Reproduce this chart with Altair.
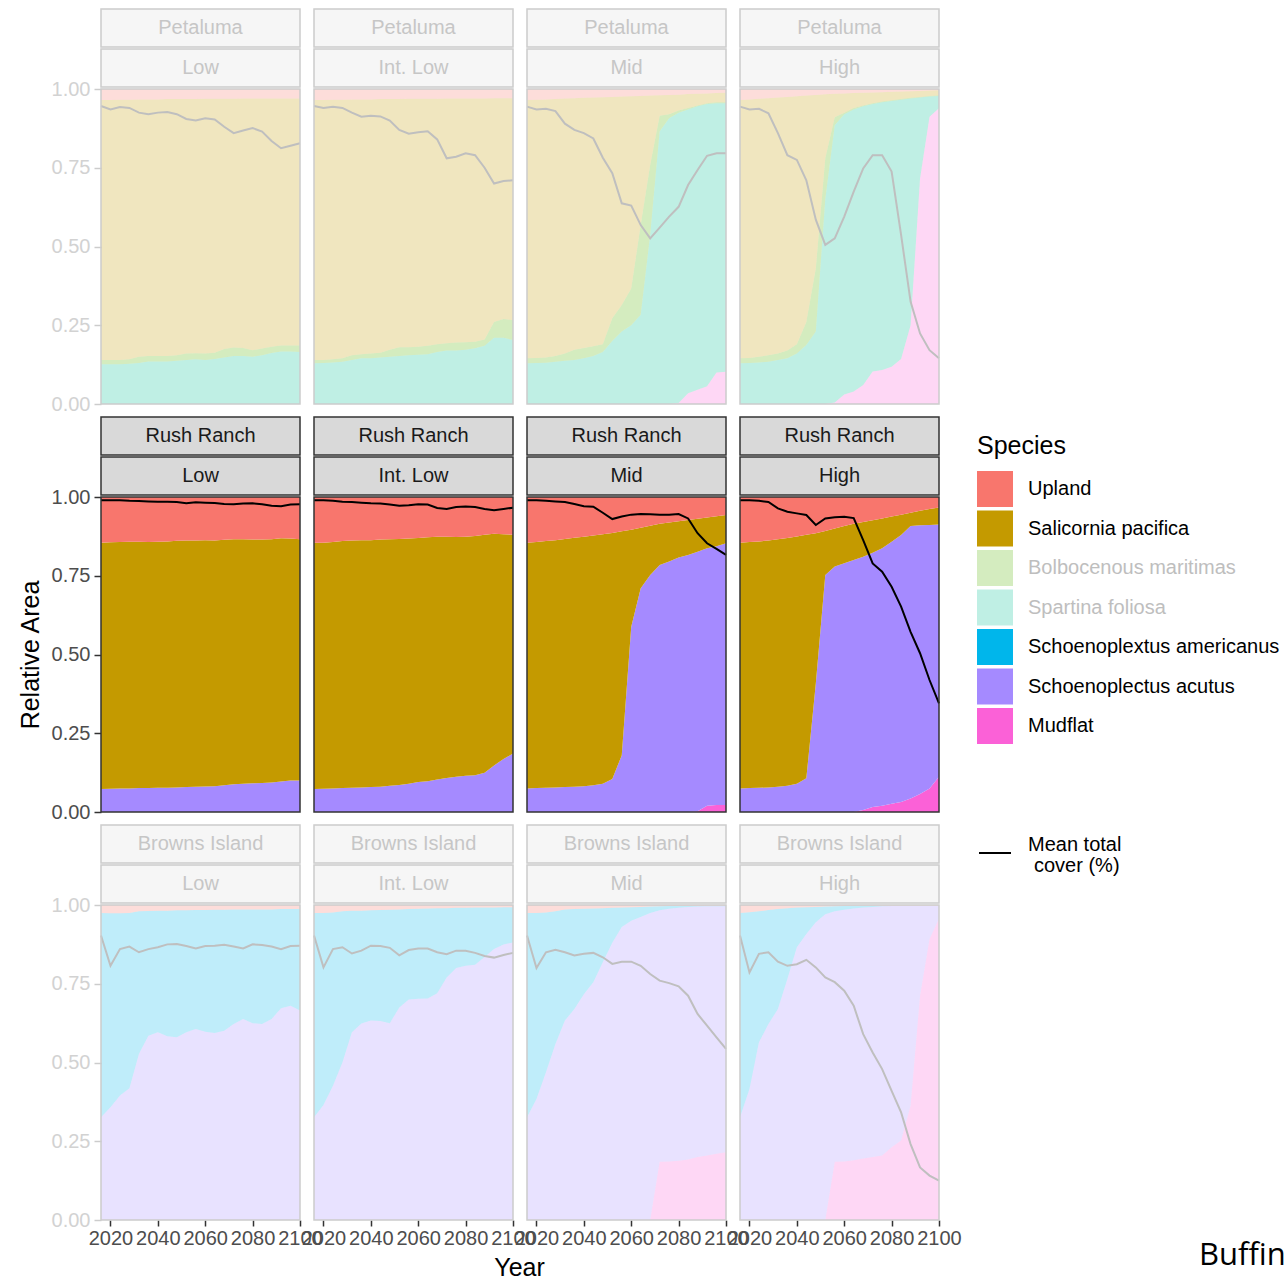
import altair as alt
import pandas as pd

# ---------------------------------------------------------------------------
# Categories, colours and labels
# ---------------------------------------------------------------------------
YEARS = list(range(2016, 2101, 4))

SITES = ["Petaluma", "Rush Ranch", "Browns Island"]
SCENARIOS = ["Low", "Int. Low", "Mid", "High"]
FOCUS_SITE = "Rush Ranch"

SPECIES = ["Upland", "Salicornia pacifica", "Bolbocenous maritimas", "Spartina foliosa",
           "Schoenoplextus americanus", "Schoenoplectus acutus", "Mudflat"]
SPECIES_COLORS = ["#F8766D", "#C49A00", "#53B400", "#00C094", "#00B6EB", "#A58AFF", "#FB61D7"]
DIMMED_KEYS = ["Bolbocenous maritimas", "Spartina foliosa"]

LEGEND_TITLE = "Species"
LINE_LABEL_LINES = ["Mean total", "cover (%)"]
Y_TITLE = "Relative Area"
X_TITLE = "Year"
Y_TICKS = [0, 0.25, 0.5, 0.75, 1.0]
X_TICKS = [2020, 2040, 2060, 2080, 2100]
CORNER_NOTE = "Buffin"

# ---------------------------------------------------------------------------
# Upper edge of each band (cumulative relative area), one value per year,
# plus the mean total cover line.  Upland always closes the stack at 1.
# ---------------------------------------------------------------------------
# Petaluma
pet_low_line = [0.946, 0.935, 0.943, 0.940, 0.925, 0.920, 0.925, 0.927, 0.920, 0.905, 0.900,
                0.907, 0.903, 0.880, 0.860, 0.868, 0.876, 0.865, 0.835, 0.812, 0.820, 0.828]
pet_low_spartina = [0.126, 0.126, 0.126, 0.128, 0.130, 0.135, 0.135, 0.135, 0.137, 0.140, 0.142,
                    0.140, 0.143, 0.148, 0.152, 0.152, 0.150, 0.155, 0.162, 0.167, 0.167, 0.165]
pet_low_bolbo = [0.140, 0.140, 0.140, 0.142, 0.150, 0.152, 0.152, 0.152, 0.155, 0.160, 0.161,
                 0.160, 0.163, 0.175, 0.179, 0.178, 0.171, 0.176, 0.182, 0.186, 0.186, 0.186]
pet_low_salicornia = [0.965, 0.965, 0.966, 0.966, 0.967, 0.967, 0.967, 0.968, 0.968, 0.968, 0.968,
                      0.969, 0.969, 0.969, 0.969, 0.970, 0.970, 0.970, 0.970, 0.970, 0.970, 0.970]

pet_il_line = [0.946, 0.940, 0.944, 0.940, 0.925, 0.912, 0.915, 0.913, 0.900, 0.870, 0.858,
               0.863, 0.866, 0.840, 0.780, 0.785, 0.796, 0.790, 0.750, 0.700, 0.708, 0.710]
pet_il_spartina = [0.129, 0.130, 0.132, 0.134, 0.140, 0.145, 0.145, 0.148, 0.150, 0.152, 0.155,
                   0.156, 0.158, 0.165, 0.170, 0.170, 0.172, 0.177, 0.185, 0.210, 0.210, 0.203]
pet_il_bolbo = [0.140, 0.140, 0.142, 0.145, 0.155, 0.158, 0.160, 0.163, 0.172, 0.180, 0.180,
                0.182, 0.185, 0.190, 0.193, 0.195, 0.196, 0.198, 0.205, 0.260, 0.270, 0.266]
pet_il_salicornia = [0.965, 0.965, 0.966, 0.966, 0.967, 0.967, 0.967, 0.968, 0.968, 0.968, 0.969,
                     0.969, 0.969, 0.969, 0.970, 0.970, 0.970, 0.970, 0.970, 0.971, 0.971, 0.971]

pet_mid_line = [0.944, 0.935, 0.937, 0.930, 0.890, 0.870, 0.860, 0.843, 0.782, 0.733, 0.637,
                0.630, 0.568, 0.526, 0.560, 0.595, 0.626, 0.695, 0.743, 0.788, 0.796, 0.796]
pet_mid_mudflat = [0, 0, 0, 0, 0, 0, 0, 0, 0, 0, 0,
                   0, 0, 0, 0, 0, 0.003, 0.034, 0.045, 0.056, 0.100, 0.102]
pet_mid_spartina = [0.129, 0.130, 0.131, 0.134, 0.137, 0.140, 0.145, 0.152, 0.165, 0.200, 0.230,
                    0.250, 0.283, 0.537, 0.865, 0.907, 0.925, 0.935, 0.945, 0.952, 0.955, 0.955]
pet_mid_bolbo = [0.145, 0.146, 0.148, 0.152, 0.160, 0.172, 0.178, 0.183, 0.190, 0.272, 0.314,
                 0.367, 0.568, 0.759, 0.915, 0.920, 0.932, 0.940, 0.948, 0.955, 0.958, 0.958]
pet_mid_salicornia = [0.965, 0.966, 0.967, 0.968, 0.970, 0.971, 0.972, 0.973, 0.974, 0.975, 0.976,
                      0.977, 0.978, 0.979, 0.980, 0.981, 0.982, 0.984, 0.985, 0.986, 0.987, 0.988]

pet_high_line = [0.944, 0.935, 0.937, 0.923, 0.860, 0.790, 0.775, 0.710, 0.585, 0.505, 0.526,
                 0.595, 0.674, 0.748, 0.790, 0.790, 0.738, 0.537, 0.325, 0.224, 0.171, 0.145]
pet_high_mudflat = [0, 0, 0, 0, 0, 0, 0, 0, 0, 0, 0.005,
                    0.030, 0.040, 0.060, 0.103, 0.108, 0.118, 0.143, 0.250, 0.716, 0.912, 0.939]
pet_high_spartina = [0.129, 0.130, 0.132, 0.134, 0.140, 0.145, 0.160, 0.187, 0.230, 0.650, 0.885,
                     0.920, 0.935, 0.945, 0.952, 0.958, 0.962, 0.966, 0.970, 0.973, 0.976, 0.978]
pet_high_bolbo = [0.145, 0.146, 0.150, 0.155, 0.160, 0.170, 0.190, 0.260, 0.430, 0.780, 0.910,
                  0.925, 0.940, 0.948, 0.955, 0.960, 0.964, 0.968, 0.972, 0.975, 0.978, 0.980]
pet_high_salicornia = [0.965, 0.967, 0.969, 0.971, 0.973, 0.975, 0.977, 0.979, 0.981, 0.983, 0.985,
                       0.986, 0.987, 0.988, 0.989, 0.990, 0.991, 0.992, 0.993, 0.994, 0.995, 0.996]

# Rush Ranch
rr_low_line = [0.990, 0.990, 0.990, 0.988, 0.987, 0.986, 0.985, 0.985, 0.984, 0.980, 0.983,
               0.982, 0.981, 0.978, 0.977, 0.979, 0.980, 0.977, 0.972, 0.971, 0.976, 0.977]
rr_low_acutus = [0.073, 0.074, 0.075, 0.075, 0.076, 0.076, 0.077, 0.077, 0.078, 0.079, 0.080,
                 0.081, 0.082, 0.085, 0.088, 0.090, 0.091, 0.092, 0.094, 0.097, 0.100, 0.100]
rr_low_salicornia = [0.855, 0.856, 0.857, 0.858, 0.858, 0.857, 0.858, 0.859, 0.861, 0.862, 0.862,
                     0.863, 0.862, 0.864, 0.866, 0.866, 0.865, 0.865, 0.866, 0.869, 0.868, 0.866]

rr_il_line = [0.990, 0.990, 0.988, 0.985, 0.984, 0.982, 0.980, 0.979, 0.976, 0.972, 0.974,
              0.977, 0.976, 0.965, 0.962, 0.968, 0.970, 0.968, 0.962, 0.958, 0.962, 0.966]
rr_il_acutus = [0.073, 0.074, 0.075, 0.076, 0.077, 0.078, 0.079, 0.080, 0.083, 0.086, 0.090,
                0.095, 0.098, 0.103, 0.108, 0.112, 0.115, 0.117, 0.125, 0.148, 0.168, 0.186]
rr_il_salicornia = [0.855, 0.855, 0.857, 0.860, 0.862, 0.863, 0.863, 0.865, 0.866, 0.867, 0.868,
                    0.870, 0.872, 0.874, 0.874, 0.873, 0.874, 0.876, 0.880, 0.883, 0.882, 0.880]

rr_mid_line = [0.990, 0.990, 0.988, 0.986, 0.984, 0.978, 0.971, 0.969, 0.950, 0.930, 0.938,
               0.944, 0.946, 0.945, 0.944, 0.944, 0.946, 0.932, 0.885, 0.853, 0.835, 0.816]
rr_mid_mudflat = [0, 0, 0, 0, 0, 0, 0, 0, 0, 0, 0,
                  0, 0, 0, 0, 0, 0, 0, 0.002, 0.020, 0.022, 0.022]
rr_mid_acutus = [0.075, 0.076, 0.077, 0.078, 0.079, 0.080, 0.082, 0.085, 0.090, 0.105, 0.180,
                 0.588, 0.710, 0.752, 0.784, 0.795, 0.808, 0.816, 0.826, 0.837, 0.844, 0.853]
rr_mid_salicornia = [0.855, 0.857, 0.860, 0.863, 0.867, 0.871, 0.874, 0.878, 0.882, 0.886, 0.891,
                     0.896, 0.902, 0.909, 0.915, 0.919, 0.923, 0.927, 0.931, 0.935, 0.939, 0.943]

rr_high_line = [0.990, 0.990, 0.988, 0.984, 0.964, 0.953, 0.948, 0.943, 0.911, 0.932, 0.936,
                0.937, 0.933, 0.863, 0.789, 0.763, 0.715, 0.652, 0.572, 0.504, 0.419, 0.345]
rr_high_mudflat = [0, 0, 0, 0, 0, 0, 0, 0, 0, 0, 0,
                   0, 0, 0.006, 0.016, 0.020, 0.026, 0.032, 0.043, 0.057, 0.075, 0.112]
rr_high_acutus = [0.075, 0.076, 0.077, 0.078, 0.080, 0.083, 0.090, 0.107, 0.408, 0.752, 0.779,
                  0.790, 0.800, 0.810, 0.823, 0.837, 0.858, 0.879, 0.908, 0.910, 0.911, 0.913]
rr_high_salicornia = [0.855, 0.857, 0.859, 0.862, 0.866, 0.870, 0.875, 0.880, 0.885, 0.892, 0.900,
                      0.908, 0.915, 0.921, 0.926, 0.932, 0.938, 0.944, 0.950, 0.956, 0.962, 0.967]

# Browns Island
bi_low_line = [0.903, 0.807, 0.860, 0.868, 0.850, 0.860, 0.866, 0.875, 0.876, 0.870, 0.862,
               0.870, 0.871, 0.874, 0.868, 0.862, 0.875, 0.873, 0.868, 0.860, 0.870, 0.871]
bi_low_acutus = [0.326, 0.358, 0.395, 0.418, 0.527, 0.585, 0.596, 0.583, 0.580, 0.596, 0.606,
                 0.598, 0.594, 0.601, 0.622, 0.638, 0.625, 0.622, 0.638, 0.672, 0.680, 0.665]
bi_low_americanus = [0.975, 0.974, 0.974, 0.975, 0.980, 0.981, 0.982, 0.982, 0.983, 0.983, 0.984,
                     0.984, 0.985, 0.985, 0.986, 0.986, 0.986, 0.986, 0.986, 0.987, 0.987, 0.987]

bi_il_line = [0.903, 0.802, 0.860, 0.866, 0.846, 0.855, 0.871, 0.870, 0.864, 0.840, 0.857,
              0.862, 0.862, 0.850, 0.844, 0.855, 0.855, 0.848, 0.838, 0.833, 0.841, 0.848]
bi_il_acutus = [0.326, 0.365, 0.426, 0.500, 0.596, 0.624, 0.633, 0.632, 0.625, 0.675, 0.700,
                0.702, 0.703, 0.720, 0.770, 0.800, 0.807, 0.810, 0.835, 0.860, 0.875, 0.881]
bi_il_americanus = [0.975, 0.975, 0.976, 0.980, 0.982, 0.982, 0.983, 0.984, 0.985, 0.986, 0.987,
                    0.988, 0.989, 0.990, 0.990, 0.991, 0.991, 0.992, 0.992, 0.992, 0.993, 0.993]

bi_mid_line = [0.903, 0.800, 0.850, 0.858, 0.850, 0.840, 0.845, 0.848, 0.834, 0.813, 0.820,
               0.820, 0.807, 0.781, 0.760, 0.752, 0.742, 0.712, 0.654, 0.617, 0.580, 0.543]
bi_mid_mudflat = [0, 0, 0, 0, 0, 0, 0, 0, 0, 0, 0,
                  0, 0, 0, 0.185, 0.186, 0.188, 0.192, 0.200, 0.205, 0.210, 0.215]
bi_mid_acutus = [0.326, 0.384, 0.469, 0.559, 0.633, 0.670, 0.717, 0.755, 0.818, 0.880, 0.930,
                 0.950, 0.962, 0.975, 0.983, 0.988, 0.991, 0.994, 0.995, 0.996, 0.996, 0.996]
bi_mid_americanus = [0.975, 0.975, 0.976, 0.980, 0.986, 0.987, 0.988, 0.989, 0.990, 0.991, 0.992,
                     0.993, 0.994, 0.995, 0.996, 0.997, 0.997, 0.997, 0.997, 0.998, 0.998, 0.998]

bi_high_line = [0.903, 0.786, 0.845, 0.850, 0.820, 0.807, 0.812, 0.826, 0.802, 0.770, 0.755,
                0.728, 0.680, 0.590, 0.532, 0.479, 0.410, 0.342, 0.241, 0.167, 0.141, 0.125]
bi_high_mudflat = [0, 0, 0, 0, 0, 0, 0, 0, 0, 0, 0.185,
                   0.186, 0.190, 0.195, 0.200, 0.205, 0.231, 0.252, 0.363, 0.712, 0.892, 0.956]
bi_high_acutus = [0.326, 0.416, 0.564, 0.622, 0.670, 0.765, 0.866, 0.908, 0.945, 0.971, 0.980,
                  0.985, 0.989, 0.992, 0.994, 0.996, 0.997, 0.997, 0.997, 0.997, 0.997, 0.997]
bi_high_americanus = [0.975, 0.977, 0.980, 0.984, 0.987, 0.990, 0.992, 0.993, 0.994, 0.995, 0.996,
                      0.997, 0.998, 0.998, 0.998, 0.998, 0.998, 0.998, 0.998, 0.998, 0.998, 0.998]

# Bands per panel, listed from the bottom of the stack upwards
PANELS = {
    ("Petaluma", "Low"): ([("Spartina foliosa", pet_low_spartina),
                           ("Bolbocenous maritimas", pet_low_bolbo),
                           ("Salicornia pacifica", pet_low_salicornia)], pet_low_line),
    ("Petaluma", "Int. Low"): ([("Spartina foliosa", pet_il_spartina),
                                ("Bolbocenous maritimas", pet_il_bolbo),
                                ("Salicornia pacifica", pet_il_salicornia)], pet_il_line),
    ("Petaluma", "Mid"): ([("Mudflat", pet_mid_mudflat),
                           ("Spartina foliosa", pet_mid_spartina),
                           ("Bolbocenous maritimas", pet_mid_bolbo),
                           ("Salicornia pacifica", pet_mid_salicornia)], pet_mid_line),
    ("Petaluma", "High"): ([("Mudflat", pet_high_mudflat),
                            ("Spartina foliosa", pet_high_spartina),
                            ("Bolbocenous maritimas", pet_high_bolbo),
                            ("Salicornia pacifica", pet_high_salicornia)], pet_high_line),
    ("Rush Ranch", "Low"): ([("Schoenoplectus acutus", rr_low_acutus),
                             ("Salicornia pacifica", rr_low_salicornia)], rr_low_line),
    ("Rush Ranch", "Int. Low"): ([("Schoenoplectus acutus", rr_il_acutus),
                                  ("Salicornia pacifica", rr_il_salicornia)], rr_il_line),
    ("Rush Ranch", "Mid"): ([("Mudflat", rr_mid_mudflat),
                             ("Schoenoplectus acutus", rr_mid_acutus),
                             ("Salicornia pacifica", rr_mid_salicornia)], rr_mid_line),
    ("Rush Ranch", "High"): ([("Mudflat", rr_high_mudflat),
                              ("Schoenoplectus acutus", rr_high_acutus),
                              ("Salicornia pacifica", rr_high_salicornia)], rr_high_line),
    ("Browns Island", "Low"): ([("Schoenoplectus acutus", bi_low_acutus),
                                ("Schoenoplextus americanus", bi_low_americanus)], bi_low_line),
    ("Browns Island", "Int. Low"): ([("Schoenoplectus acutus", bi_il_acutus),
                                     ("Schoenoplextus americanus", bi_il_americanus)], bi_il_line),
    ("Browns Island", "Mid"): ([("Mudflat", bi_mid_mudflat),
                                ("Schoenoplectus acutus", bi_mid_acutus),
                                ("Schoenoplextus americanus", bi_mid_americanus)], bi_mid_line),
    ("Browns Island", "High"): ([("Mudflat", bi_high_mudflat),
                                 ("Schoenoplectus acutus", bi_high_acutus),
                                 ("Schoenoplextus americanus", bi_high_americanus)], bi_high_line),
}

# ---------------------------------------------------------------------------
# Styling
# ---------------------------------------------------------------------------
FONT = "Liberation Sans"
W, H = 199, 315
FADED = 0.25


def fade(hex_color, alpha):
    """Blend a colour with white, as if drawn with the given alpha."""
    h = hex_color.lstrip("#")
    r, g, b = (int(h[i:i + 2], 16) for i in (0, 2, 4))

    def mix(c):
        return round(255 - (255 - c) * alpha)

    return "#{:02X}{:02X}{:02X}".format(mix(r), mix(g), mix(b))


def band_table(bands):
    rows = []
    lower = [0.0] * len(YEARS)
    for name, tops in bands + [("Upland", [1.0] * len(YEARS))]:
        for yr, lo, hi in zip(YEARS, lower, tops):
            rows.append({"year": yr, "species": name, "lower": lo, "upper": hi})
        lower = tops
    return pd.DataFrame(rows)


species_color = alt.Color("species:N",
                          scale=alt.Scale(domain=SPECIES, range=SPECIES_COLORS),
                          legend=None)


def legend_layers():
    """Species key and line key, drawn to the right of the panel they sit in."""
    key_df = pd.DataFrame({"species": SPECIES})
    key_y = alt.Y("species:N", scale=alt.Scale(domain=SPECIES, range=[-8, 229], padding=0),
                  axis=None)
    dimmed = alt.FieldOneOfPredicate(field="species", oneOf=DIMMED_KEYS)
    keys = alt.Chart(key_df).mark_square(size=1296).encode(
        x=alt.value(255), y=key_y, color=species_color,
        opacity=alt.condition(dimmed, alt.value(FADED), alt.value(1.0)),
    )
    key_labels = alt.Chart(key_df).mark_text(
        font=FONT, fontSize=20, align="left", baseline="middle"
    ).encode(
        x=alt.value(288), y=key_y, text="species:N",
        color=alt.condition(dimmed, alt.value("#BEBEBE"), alt.value("black")),
    )
    title_df = pd.DataFrame({"label": [LEGEND_TITLE]})
    title = alt.Chart(title_df).mark_text(
        font=FONT, fontSize=25, align="left", baseline="alphabetic", color="black"
    ).encode(x=alt.value(237), y=alt.value(-43), text="label:N")

    line_df = pd.DataFrame({"first": [LINE_LABEL_LINES[0]], "second": [LINE_LABEL_LINES[1]]})
    line_key = alt.Chart(line_df).mark_rule(color="black", strokeWidth=2).encode(
        x=alt.value(239), x2=alt.value(271), y=alt.value(356)
    )
    line_label_1 = alt.Chart(line_df).mark_text(
        font=FONT, fontSize=20, align="left", baseline="alphabetic", color="black"
    ).encode(x=alt.value(288), y=alt.value(354), text="first:N")
    # second line sits one space further in
    line_label_2 = alt.Chart(line_df).mark_text(
        font=FONT, fontSize=20, align="left", baseline="alphabetic", color="black"
    ).encode(x=alt.value(294), y=alt.value(375), text="second:N")
    return [keys, key_labels, title, line_key, line_label_1, line_label_2]


def note_layer():
    note_df = pd.DataFrame({"label": [CORNER_NOTE]})
    return alt.Chart(note_df).mark_text(
        font="Open Sans", fontSize=31, align="left", baseline="alphabetic", color="black"
    ).encode(x=alt.value(459), y=alt.value(360), text="label:N")


def make_panel(site, scenario, r, c):
    a = 1.0 if site == FOCUS_SITE else FADED
    bands, cover = PANELS[(site, scenario)]
    area_df = band_table(bands)
    line_df = pd.DataFrame({"year": YEARS, "cover": cover})
    label_df = pd.DataFrame({"site": [site], "scenario": [scenario]})

    x_scale = alt.Scale(domain=[2016, 2100], nice=False, zero=False)
    y_scale = alt.Scale(domain=[0, 1], nice=False)

    if r == len(SITES) - 1:
        axis_args = dict(values=X_TICKS, format="d", grid=False, domain=False,
                         labelFont=FONT, labelFontSize=20, labelColor="#4D4D4D",
                         tickColor="#333333", tickSize=6, tickWidth=1.5, labelPadding=2,
                         labelOverlap=False, labelFlush=False)
        if c == 1:
            # axis title centred under the whole grid of panels
            axis_args.update(title=X_TITLE, titleFont=FONT, titleFontSize=25,
                             titleFontWeight="normal", titleColor="black",
                             titleX=W + 6, titleY=47, titleAlign="center",
                             titleBaseline="middle")
        else:
            axis_args.update(title=None)
        x_axis = alt.Axis(**axis_args)
    else:
        x_axis = None

    if c == 0:
        y_axis = alt.Axis(values=Y_TICKS, format=".2f", grid=False, domain=False,
                          title=Y_TITLE if site == FOCUS_SITE else None,
                          titleFont=FONT, titleFontSize=25, titleFontWeight="normal",
                          titleColor="black", titlePadding=8,
                          labelFont=FONT, labelFontSize=20,
                          labelColor=fade("#4D4D4D", a), tickColor=fade("#333333", a),
                          tickSize=7, tickWidth=1.5, labelPadding=4)
    else:
        y_axis = None

    areas = alt.Chart(area_df).mark_area(opacity=a).encode(
        x=alt.X("year:Q", scale=x_scale, axis=x_axis),
        y=alt.Y("upper:Q", scale=y_scale, axis=y_axis),
        y2="lower:Q",
        color=species_color,
    )
    line = alt.Chart(line_df).mark_line(color=fade("#000000", a), strokeWidth=2).encode(
        x=alt.X("year:Q", scale=x_scale, axis=x_axis),
        y=alt.Y("cover:Q", scale=y_scale, axis=y_axis),
    )
    frame = alt.Chart(label_df).mark_rect(
        fill="white", fillOpacity=0, stroke=fade("#333333", a), strokeWidth=1.5
    ).encode(x=alt.value(0), x2=alt.value(W), y=alt.value(0), y2=alt.value(H))

    strip_fill = fade("#D9D9D9", a)
    strip_edge = fade("#333333", a)
    strip_ink = fade("#1A1A1A", a)
    top_box = alt.Chart(label_df).mark_rect(
        fill=strip_fill, stroke=strip_edge, strokeWidth=1.5
    ).encode(x=alt.value(0), x2=alt.value(W), y=alt.value(-80), y2=alt.value(-42))
    bottom_box = alt.Chart(label_df).mark_rect(
        fill=strip_fill, stroke=strip_edge, strokeWidth=1.5
    ).encode(x=alt.value(0), x2=alt.value(W), y=alt.value(-40), y2=alt.value(-2))
    top_text = alt.Chart(label_df).mark_text(
        font=FONT, fontSize=20, color=strip_ink, baseline="middle"
    ).encode(x=alt.value(W / 2), y=alt.value(-61), text="site:N")
    bottom_text = alt.Chart(label_df).mark_text(
        font=FONT, fontSize=20, color=strip_ink, baseline="middle"
    ).encode(x=alt.value(W / 2), y=alt.value(-21), text="scenario:N")

    layers = [areas, line, frame, top_box, bottom_box, top_text, bottom_text]
    last_col = c == len(SCENARIOS) - 1
    if site == FOCUS_SITE and last_col:
        layers += legend_layers()
    if r == len(SITES) - 1 and last_col:
        layers.append(note_layer())

    panel = alt.layer(*layers).properties(width=W, height=H)
    if site == FOCUS_SITE and last_col:
        panel = panel.resolve_scale(y="independent")
    return panel


panels = [make_panel(s, sc, r, c)
          for r, s in enumerate(SITES) for c, sc in enumerate(SCENARIOS)]

chart = alt.concat(
    *panels,
    columns=4,
    spacing={"row": 93, "column": 14},
    bounds="flush",
).properties(
    padding={"left": 18, "top": 8, "right": 0, "bottom": 0},
    background="white",
).configure_view(strokeWidth=0)

chart.save("out.html", embed_options={"renderer": "svg", "actions": False})
